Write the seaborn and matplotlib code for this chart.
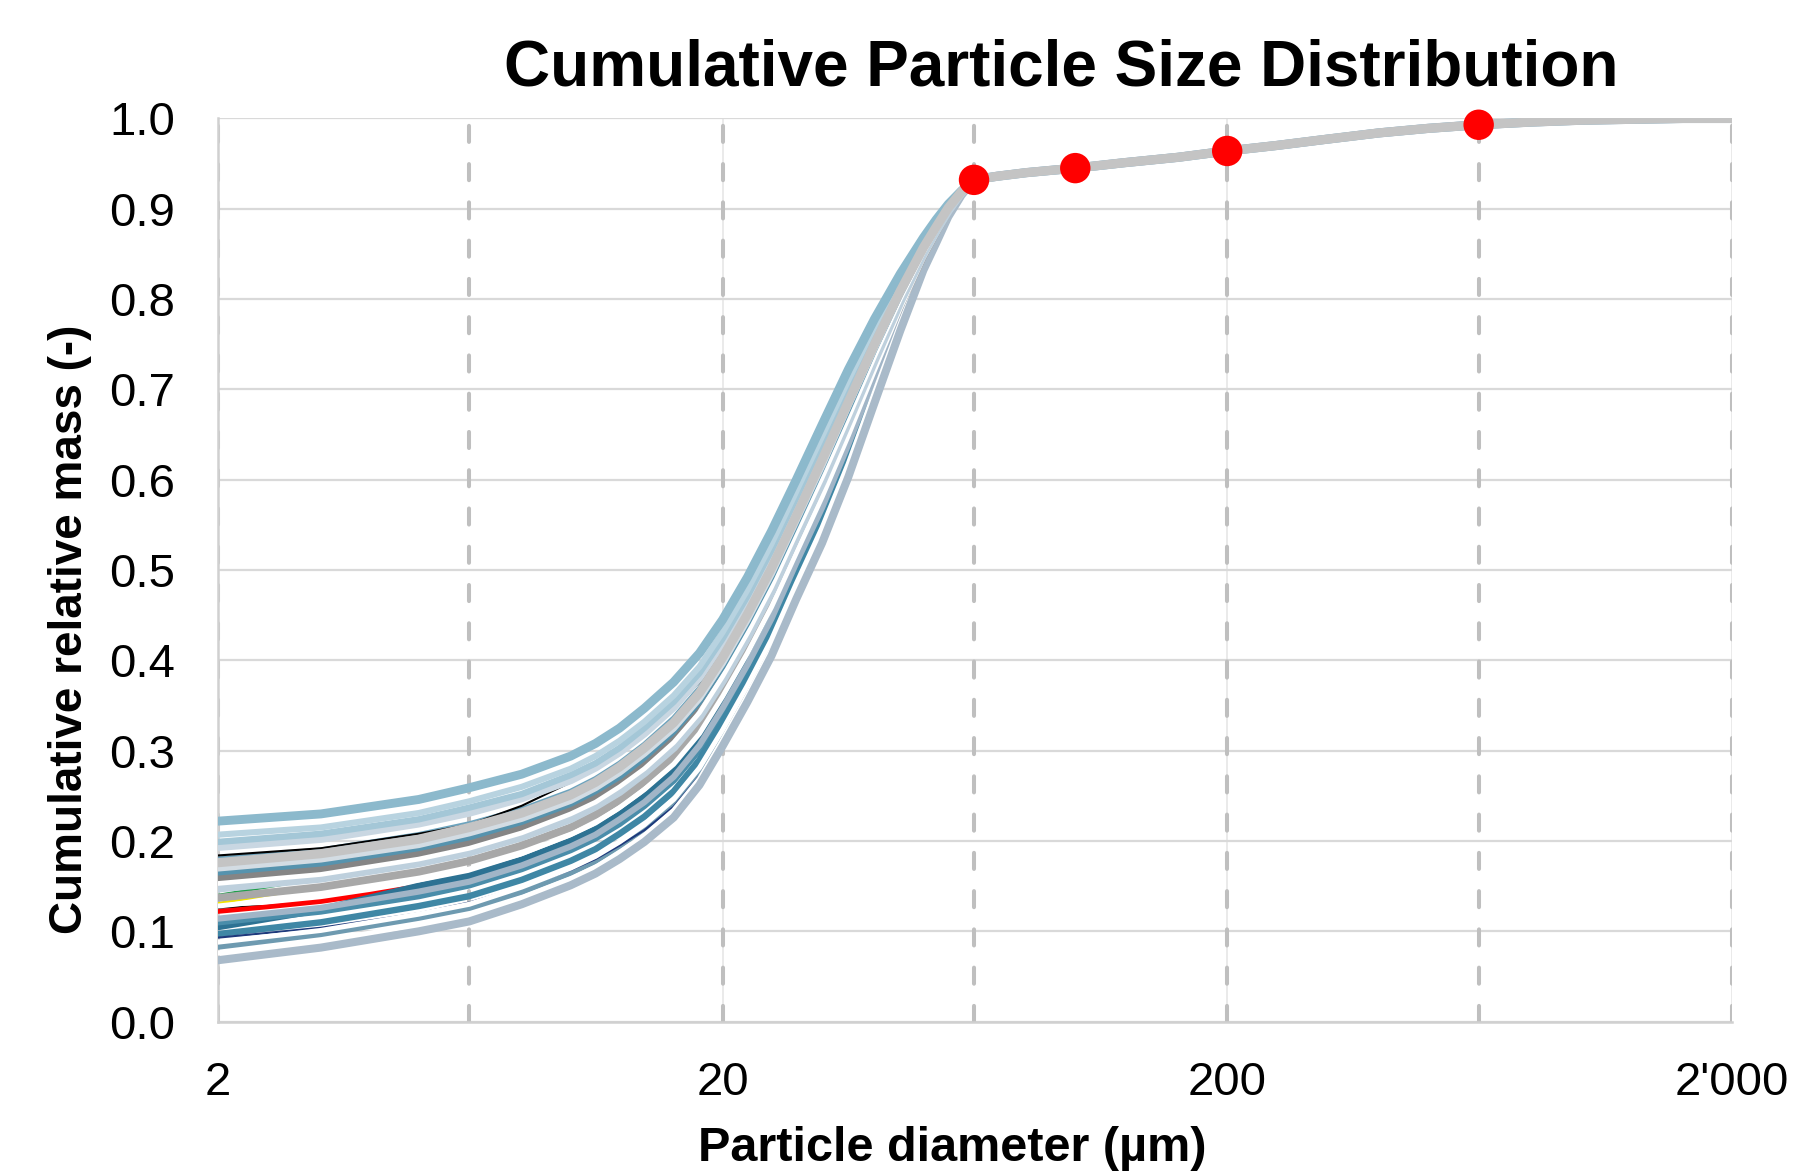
import matplotlib
matplotlib.use("Agg")
import matplotlib.pyplot as plt
import seaborn as sns
from matplotlib.ticker import FixedLocator, FixedFormatter, NullLocator

# === Données ===
# diamètres (µm) de la partie qui varie, puis la partie commune au-delà de 63 µm
X_LOW = [2, 3.2, 5, 6.3, 8, 10, 11.2, 12.5, 14, 16, 18, 20, 22.4, 25, 28, 31.5, 35.5, 40, 45, 50, 53, 56, 59.5, 63]
X_TAIL = [70, 80, 100, 125, 160, 200, 250, 315, 400, 500, 630, 800, 1000, 1250, 1600, 2000]
TAIL = [0.936, 0.940, 0.945, 0.951, 0.957, 0.964, 0.970, 0.977, 0.984, 0.989, 0.993,
        0.996, 0.998, 0.999, 1.000, 1.000]

c01 = [0.222, 0.230, 0.246, 0.259, 0.274, 0.294, 0.308, 0.325, 0.347, 0.376, 0.408, 0.445, 0.492, 0.543, 0.600, 0.661, 0.722, 0.778, 0.828, 0.868, 0.888, 0.905, 0.920, 0.932]
c02b = [0.207, 0.215, 0.231, 0.244, 0.260, 0.280, 0.294, 0.311, 0.332, 0.361, 0.393, 0.431, 0.478, 0.529, 0.587, 0.648, 0.710, 0.769, 0.822, 0.864, 0.885, 0.904, 0.920, 0.932]
c02 = [0.199, 0.208, 0.224, 0.237, 0.252, 0.273, 0.286, 0.303, 0.325, 0.354, 0.386, 0.424, 0.471, 0.522, 0.580, 0.641, 0.704, 0.764, 0.819, 0.863, 0.884, 0.903, 0.919, 0.932]
c03 = [0.194, 0.203, 0.220, 0.232, 0.248, 0.268, 0.282, 0.299, 0.320, 0.349, 0.382, 0.420, 0.467, 0.518, 0.576, 0.637, 0.701, 0.761, 0.817, 0.862, 0.883, 0.902, 0.919, 0.932]
c04 = [0.184, 0.192, 0.208, 0.218, 0.239, 0.265, 0.282, 0.300, 0.320, 0.346, 0.376, 0.414, 0.462, 0.513, 0.571, 0.632, 0.696, 0.758, 0.814, 0.860, 0.882, 0.902, 0.919, 0.932]
c05 = [0.180, 0.190, 0.207, 0.219, 0.235, 0.255, 0.269, 0.286, 0.307, 0.336, 0.369, 0.407, 0.455, 0.506, 0.564, 0.626, 0.690, 0.753, 0.811, 0.858, 0.881, 0.901, 0.919, 0.932]
c06 = [0.176, 0.186, 0.202, 0.215, 0.231, 0.251, 0.265, 0.282, 0.303, 0.331, 0.364, 0.403, 0.451, 0.502, 0.560, 0.622, 0.686, 0.750, 0.809, 0.857, 0.880, 0.901, 0.919, 0.932]
c06b = [0.170, 0.180, 0.196, 0.209, 0.225, 0.245, 0.259, 0.276, 0.297, 0.325, 0.358, 0.397, 0.445, 0.496, 0.555, 0.616, 0.682, 0.746, 0.807, 0.856, 0.879, 0.900, 0.918, 0.932]
c07 = [0.165, 0.175, 0.192, 0.204, 0.221, 0.241, 0.255, 0.271, 0.292, 0.321, 0.354, 0.393, 0.441, 0.492, 0.551, 0.613, 0.678, 0.744, 0.805, 0.855, 0.878, 0.900, 0.918, 0.932]
c08 = [0.159, 0.169, 0.186, 0.198, 0.215, 0.235, 0.249, 0.266, 0.286, 0.315, 0.348, 0.388, 0.435, 0.486, 0.546, 0.607, 0.673, 0.740, 0.802, 0.853, 0.877, 0.899, 0.918, 0.932]
w1 = [0.153, 0.163, 0.180, 0.192, 0.209, 0.230, 0.243, 0.260, 0.280, 0.309, 0.342, 0.382, 0.430, 0.481, 0.541, 0.602, 0.668, 0.736, 0.800, 0.852, 0.876, 0.899, 0.918, 0.932]
c09 = [0.148, 0.159, 0.176, 0.188, 0.205, 0.225, 0.239, 0.255, 0.276, 0.304, 0.338, 0.378, 0.426, 0.477, 0.537, 0.598, 0.665, 0.733, 0.798, 0.851, 0.876, 0.898, 0.918, 0.932]
c11 = [0.137, 0.149, 0.166, 0.178, 0.195, 0.215, 0.229, 0.245, 0.266, 0.294, 0.328, 0.368, 0.416, 0.467, 0.527, 0.589, 0.657, 0.727, 0.793, 0.848, 0.874, 0.897, 0.917, 0.932]
w2 = [0.128, 0.140, 0.157, 0.169, 0.186, 0.207, 0.220, 0.237, 0.257, 0.285, 0.319, 0.360, 0.408, 0.459, 0.519, 0.581, 0.649, 0.721, 0.790, 0.846, 0.872, 0.896, 0.917, 0.932]
c15 = [0.114, 0.126, 0.144, 0.155, 0.173, 0.194, 0.207, 0.224, 0.243, 0.271, 0.306, 0.347, 0.395, 0.446, 0.508, 0.569, 0.639, 0.713, 0.784, 0.843, 0.870, 0.895, 0.917, 0.932]
c13 = [0.110, 0.122, 0.139, 0.151, 0.169, 0.190, 0.203, 0.219, 0.239, 0.267, 0.301, 0.343, 0.391, 0.442, 0.504, 0.565, 0.635, 0.710, 0.782, 0.842, 0.869, 0.895, 0.916, 0.932]
c16 = [0.105, 0.124, 0.150, 0.161, 0.179, 0.200, 0.213, 0.229, 0.249, 0.277, 0.312, 0.353, 0.401, 0.452, 0.513, 0.575, 0.643, 0.717, 0.786, 0.844, 0.871, 0.896, 0.917, 0.932]
c17 = [0.097, 0.110, 0.128, 0.139, 0.157, 0.178, 0.191, 0.208, 0.227, 0.255, 0.290, 0.332, 0.380, 0.431, 0.493, 0.555, 0.626, 0.703, 0.777, 0.839, 0.867, 0.894, 0.916, 0.932]
c18 = [0.093, 0.104, 0.120, 0.132, 0.149, 0.168, 0.180, 0.195, 0.212, 0.238, 0.272, 0.313, 0.361, 0.412, 0.475, 0.537, 0.609, 0.690, 0.768, 0.834, 0.863, 0.892, 0.915, 0.932]
w3 = [0.088, 0.101, 0.119, 0.130, 0.149, 0.170, 0.183, 0.199, 0.218, 0.246, 0.281, 0.323, 0.372, 0.423, 0.485, 0.547, 0.618, 0.697, 0.773, 0.837, 0.865, 0.893, 0.916, 0.932]
c19 = [0.083, 0.097, 0.115, 0.126, 0.144, 0.165, 0.178, 0.195, 0.214, 0.241, 0.277, 0.319, 0.368, 0.419, 0.481, 0.543, 0.615, 0.694, 0.771, 0.836, 0.865, 0.892, 0.916, 0.932]
w4 = [0.076, 0.089, 0.107, 0.118, 0.137, 0.158, 0.171, 0.187, 0.206, 0.234, 0.269, 0.312, 0.361, 0.412, 0.475, 0.537, 0.609, 0.690, 0.768, 0.834, 0.863, 0.892, 0.915, 0.932]
c20 = [0.068, 0.082, 0.100, 0.111, 0.130, 0.151, 0.164, 0.180, 0.199, 0.226, 0.262, 0.305, 0.354, 0.405, 0.468, 0.530, 0.603, 0.685, 0.765, 0.832, 0.862, 0.891, 0.915, 0.932]

# séries courtes, visibles seulement à gauche (ensuite cachées sous les autres)
X_COURT = [2, 2.5, 3.2]
X_ROUGE = [2, 2.5, 3.2, 4, 5]
noir2 = [0.126, 0.128, 0.133]
jaune = [0.131, 0.140, 0.149]
vert = [0.140, 0.149, 0.159]
rouge = [0.122, 0.127, 0.133, 0.141, 0.150]

# points rouges (tamis)
MARK_X = [63, 100, 200, 630]
MARK_Y = [0.932, 0.945, 0.964, 0.993]

DASH_X = [2, 6.3, 20, 63, 200, 630, 2000]
X_TICKS = [2, 20, 200, 2000]
X_LABELS = ["2", "20", "200", "2'000"]
Y_TICKS = [0.0, 0.1, 0.2, 0.3, 0.4, 0.5, 0.6, 0.7, 0.8, 0.9, 1.0]

# ordre de tracé (du dessous au dessus) : courbe, couleur, épaisseur
courbes = [
    (c16, "#2D7293", 5.0), (c13, "#4A8DAA", 4.6), (c17, "#3F87A5", 4.6), (c19, "#6E9AB0", 4.4),
    (c15, "#A1B5C7", 4.4), (c18, "#1E3A7C", 1.5), (w3, "#FFFFFF", 3.6), (w4, "#FFFFFF", 3.6),
    (c20, "#A9BAC9", 5.8), (c11, "#A8A8A8", 5.6), (w2, "#FFFFFF", 3.6), (c08, "#858585", 6.0),
    (c09, "#BED0DD", 6.6), (w1, "#FFFFFF", 3.4), (c07, "#5693AE", 4.2), (c06b, "#D3DCE3", 5.0),
    (c05, "#6CA3BD", 3.8), (c04, "#000000", 1.5), (c03, "#C9D7E2", 6.6), (c02, "#A4C7D7", 4.6),
    (c02b, "#B8D3E0", 4.4), (c01, "#8CB9CC", 6.4), (c06, "#C4C4C4", 6.6),
]
courtes = [
    (X_COURT, noir2, "#000000", 1.5), (X_COURT, jaune, "#F2E400", 2.0),
    (X_COURT, vert, "#1E9E4A", 2.0), (X_ROUGE, rouge, "#FF0000", 3.4),
]

sns.set_style("white")
plt.rcParams["font.family"] = ["Liberation Sans", "DejaVu Sans"]

fig = plt.figure(figsize=(17.98, 11.75), dpi=100)
ax = fig.add_axes([0.1212, 0.1305, 0.842, 0.7687])

for xs, vals, couleur, ep in courtes:
    sns.lineplot(x=xs, y=vals, color=couleur, linewidth=ep,
                 sort=False, estimator=None, ax=ax, zorder=3)

for vals, couleur, ep in courbes:
    sns.lineplot(x=X_LOW + X_TAIL, y=vals + TAIL, color=couleur, linewidth=ep,
                 sort=False, estimator=None, ax=ax, zorder=3)

sns.scatterplot(x=MARK_X, y=MARK_Y, color="#FF0000", s=480, edgecolor="none",
                zorder=10, clip_on=False, ax=ax)

for xv in DASH_X:
    ax.axvline(xv, color="#BFBFBF", lw=2.9, dashes=(4, 5.5), dash_capstyle="round", zorder=2)

ax.set_xscale("log")
ax.set_xlim(2, 2000)
ax.set_ylim(0, 1)
ax.xaxis.set_major_locator(FixedLocator(X_TICKS))
ax.xaxis.set_major_formatter(FixedFormatter(X_LABELS))
ax.xaxis.set_minor_locator(NullLocator())
ax.yaxis.set_major_locator(FixedLocator(Y_TICKS))
ax.yaxis.set_major_formatter(FixedFormatter([f"{v:.1f}" for v in Y_TICKS]))

ax.yaxis.grid(True, color="#D9D9D9", lw=1.6, zorder=1)
ax.xaxis.grid(True, color="#E6E6E6", lw=1.2, zorder=1)
ax.set_axisbelow(True)
for cote in ["top", "right"]:
    ax.spines[cote].set_visible(False)
for cote in ["left", "bottom"]:
    ax.spines[cote].set_color("#D0D0D0")
    ax.spines[cote].set_linewidth(1.8)

ax.tick_params(axis="both", length=0, labelsize=34, colors="#000000")
ax.tick_params(axis="y", pad=31)
ax.tick_params(axis="x", pad=28)
ax.set_xlabel("")
ax.set_ylabel("")

fig.text(0.590, 0.927, "Cumulative Particle Size Distribution", ha="center", va="baseline",
         fontsize=46, fontweight="bold", color="#000000")
fig.text(0.5295, 0.012, "Particle diameter (µm)", ha="center", va="baseline",
         fontsize=35, fontweight="bold", color="#000000")
fig.text(0.039, 0.4645, "Cumulative relative mass (-)", ha="center", va="center",
         rotation=90, fontsize=33, fontweight="bold", color="#000000")

fig.savefig("out.png", dpi=100)
